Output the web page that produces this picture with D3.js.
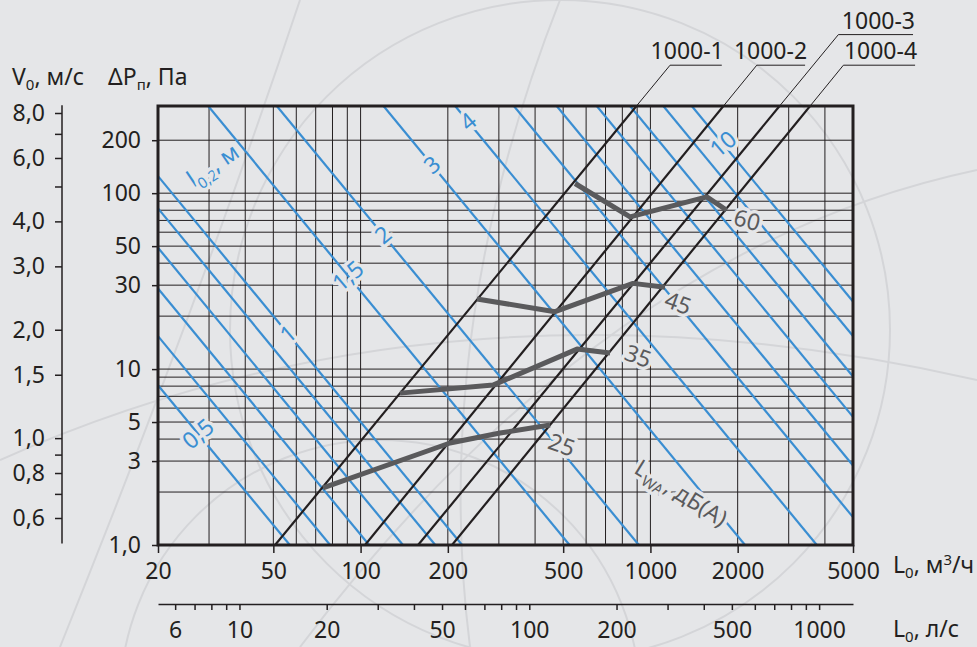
<!DOCTYPE html>
<html>
<head>
<meta charset="utf-8">
<script src="https://cdn.jsdelivr.net/npm/d3@7"></script>
<style>
body { margin: 0; background: #e5e6e8; }
svg { display: block; font-family: "Noto Sans", sans-serif; }
</style>
</head>
<body>
<script>
// axis ticks and grid
const flowTicks = [20, 50, 100, 200, 500, 1000, 2000, 5000];
const flowGrid = [30, 40, 50, 60, 70, 80, 90, 100, 200, 300, 400, 500, 600, 700, 800, 900, 1000, 2000, 3000, 4000];
const flowLsTicks = [6, 7, 8, 9, 10, 20, 30, 40, 50, 60, 70, 80, 90, 100, 200, 300, 400, 500, 600, 700, 800, 900, 1000];
const flowLsLabels = [6, 10, 20, 50, 100, 200, 500, 1000];
const dpTicks = [1, 3, 5, 10, 30, 50, 100, 200];
const dpGrid = [2, 3, 4, 5, 6, 7, 8, 9, 10, 20, 30, 40, 50, 60, 70, 80, 90, 100, 200];
const vTicks = [8, 7, 6, 5, 4, 3, 2, 1.5, 1, 0.9, 0.8, 0.7, 0.6];
const vLabels = [8, 6, 4, 3, 2, 1.5, 1, 0.8, 0.6];

// 1000-x lines: L at dP=1, leader bend point, leader end
const grilleNames = ["1000-1", "1000-2", "1000-3", "1000-4"];
const grilleStart = [50.7, 103.6, 157.9, 206.8];
const grilleBend = [[1169, 534], [2328, 534], [4452, 797], [4633, 534]];
const grilleLeaderEnd = [1763, 3417, 8055, 8188];

// blue lines l0,2
const throwNames = ["0,5", "0,6", "0,7", "0,8", "0,9", "1", "1,5", "2", "3", "4", "5", "6", "7", "8", "9", "10"];
const throwFrom = [[20, 8.1], [20, 15.4], [20, 28.7], [20, 49], [20, 82], [20, 125], [29.8, 313], [51.4, 313], [120, 313], [212, 313], [338, 313], [475, 313], [653, 313], [851, 313], [1108, 313], [1389, 313]];
const throwTo = [[57, 1], [78.5, 1], [107, 1], [140, 1], [181, 1], [224, 1], [526, 1], [912, 1], [2120, 1], [3750, 1], [5000, 1.44], [5000, 2.83], [5000, 5.35], [5000, 9.08], [5000, 15.4], [5000, 24.2]];
const throwLabelL = [27.5, null, null, null, null, 56.2, 90.5, 119.5, 176.4, 234.9, null, null, null, null, null, 1781];

// noise curves LwA
const noiseNames = ["25", "35", "45", "60"];
const noise25 = [[74.2, 2.11], [203.5, 3.80], [302.8, 4.33], [450.6, 4.81]];
const noise35 = [[136.8, 7.30], [286.4, 8.11], [558.3, 12.99], [726, 12.33]];
const noise45 = [[252.2, 25.0], [468.8, 21.2], [870.9, 30.7], [1123, 29.2]];
const noise60 = [[549.6, 113.5], [850.7, 73.3], [1565, 95.3], [1834, 80.0]];
const noiseLabelAt = [[494, 3.70], [907, 11.85], [1246, 23.7], [2156, 70.2]];

const W = 977, H = 647;
const bg = "#e5e6e8", ink = "#231f20", blue = "#3a8ed2", grey = "#5a5a5c";
const fs = 23, fsSub = 15;

const svg = d3.select("body").append("svg").attr("width", W).attr("height", H);

// faint background decoration
const deco = svg.append("g").attr("fill", "none").attr("stroke", "#d4d5d8").attr("stroke-width", 2);
deco.append("circle").attr("cx", 560).attr("cy", 330).attr("r", 330);
deco.append("circle").attr("cx", 380).attr("cy", 700).attr("r", 260);
deco.append("path").attr("d", "M300,0 Q200,300 60,647");
deco.append("path").attr("d", "M0,460 Q450,260 977,380");
deco.append("path").attr("d", "M560,0 Q430,330 470,647");
deco.append("path").attr("d", "M977,170 Q600,250 300,647");

const x = d3.scaleLog().domain([20, 5000]).range([158, 853]);
const y = d3.scaleLog().domain([1, 313]).range([545, 106]);
const xLs = d3.scaleLog().domain([20 / 3.82, 5000 / 3.82]).range([158, 853]);
const yV = d3.scaleLog().domain([0.6, 8]).range([518, 113]);

svg.append("clipPath").attr("id", "plot")
  .append("rect").attr("x", 158).attr("y", 106).attr("width", 695).attr("height", 439);

const line = d3.line().x(d => x(d[0])).y(d => y(d[1]));

// grid
const grid = svg.append("g").attr("stroke", ink).attr("stroke-width", 1);
grid.selectAll(".v").data(flowGrid).join("line")
  .attr("x1", d => x(d)).attr("x2", d => x(d)).attr("y1", 106).attr("y2", 545);
grid.selectAll(".h").data(dpGrid).join("line")
  .attr("x1", 158).attr("x2", 853).attr("y1", d => y(d)).attr("y2", d => y(d));

// blue throw lines
svg.append("g").attr("clip-path", "url(#plot)")
  .selectAll("path").data(throwNames).join("path")
  .attr("d", (d, i) => line([throwFrom[i], throwTo[i]]))
  .attr("fill", "none").attr("stroke", blue).attr("stroke-width", 2.2);

// 1000-x lines
const gl = svg.append("g");
grilleNames.forEach((n, i) => {
  const pts = [[grilleStart[i], 1], grilleBend[i]];
  gl.append("path").attr("d", line(pts.concat([[grilleLeaderEnd[i], grilleBend[i][1]]])))
    .attr("fill", "none").attr("stroke", ink).attr("stroke-width", 1);
  gl.append("path").attr("d", line(pts)).attr("clip-path", "url(#plot)")
    .attr("fill", "none").attr("stroke", ink).attr("stroke-width", 2.2);
  gl.append("text").attr("x", x(grilleLeaderEnd[i]) + 2).attr("y", y(grilleBend[i][1]) - 6)
    .attr("text-anchor", "end").attr("font-size", fs).attr("fill", ink).text(n);
});

// noise curves
svg.append("g").selectAll("path").data([noise25, noise35, noise45, noise60]).join("path")
  .attr("d", line).attr("fill", "none").attr("stroke", grey)
  .attr("stroke-width", 5).attr("stroke-linejoin", "round");

// labels with halo
function halo(sel) {
  return sel.attr("stroke", bg).attr("stroke-width", 7).attr("paint-order", "stroke")
    .attr("stroke-linejoin", "round");
}

throwNames.forEach((n, i) => {
  const L = throwLabelL[i];
  if (L == null) return;
  const a = throwFrom[i], b = throwTo[i];
  const t = Math.log(L / a[0]) / Math.log(b[0] / a[0]);
  const P = Math.exp(Math.log(a[1]) + t * Math.log(b[1] / a[1]));
  halo(svg.append("text")).attr("transform", `translate(${x(L)},${y(P)}) rotate(-40)`)
    .attr("text-anchor", "middle").attr("dy", "0.35em").attr("font-size", fs)
    .attr("fill", blue).text(n);
});

const lt = halo(svg.append("text")).attr("transform", `translate(${x(30.9)},${y(144.3)}) rotate(-34)`)
  .attr("text-anchor", "middle").attr("dy", "0.35em").attr("font-size", fs).attr("fill", blue);
lt.append("tspan").text("l");
lt.append("tspan").attr("font-size", fsSub).attr("dy", 6).text("0,2");
lt.append("tspan").attr("dy", -6).text(", м");

noiseNames.forEach((n, i) => {
  halo(svg.append("text"))
    .attr("transform", `translate(${x(noiseLabelAt[i][0])},${y(noiseLabelAt[i][1])}) rotate(${i === 3 ? 15 : 20})`)
    .attr("text-anchor", "middle").attr("dy", "0.35em").attr("font-size", fs)
    .attr("fill", grey).text(n);
});

const lw = halo(svg.append("text")).attr("transform", `translate(${x(1276)},${y(1.975)}) rotate(32)`)
  .attr("text-anchor", "middle").attr("dy", "0.35em").attr("font-size", fs).attr("fill", grey);
lw.append("tspan").text("L");
lw.append("tspan").attr("font-size", fsSub).attr("dy", 6).text("WA");
lw.append("tspan").attr("dy", -6).text(", дБ(A)");

// frame
svg.append("rect").attr("x", 158).attr("y", 106).attr("width", 695).attr("height", 439)
  .attr("fill", "none").attr("stroke", ink).attr("stroke-width", 3);

// axes
function styleAxis(g) {
  g.selectAll("text").attr("font-size", fs).attr("fill", ink).attr("font-family", "Noto Sans");
  g.selectAll("line").attr("stroke", ink).attr("stroke-width", 1.5);
  g.select(".domain").attr("stroke", ink).attr("stroke-width", 1.5);
}

svg.append("g").attr("transform", "translate(0,545)")
  .call(d3.axisBottom(x).tickValues(flowTicks).tickFormat(d3.format("d")).tickSize(8).tickPadding(10))
  .call(g => g.select(".domain").remove()).call(styleAxis);

svg.append("g").attr("transform", "translate(158,0)")
  .call(d3.axisLeft(y).tickValues(dpTicks).tickFormat(d => d === 1 ? "1,0" : d).tickSize(6).tickPadding(11))
  .call(g => g.select(".domain").remove()).call(styleAxis);

const fmtComma = d => d3.format(".1f")(d).replace(".", ",");
svg.append("g").attr("transform", "translate(62,0)")
  .call(d3.axisLeft(yV).tickValues(vTicks).tickFormat(d => vLabels.includes(d) ? fmtComma(d) : "").tickSize(7).tickPadding(10))
  .call(g => g.select(".domain").remove()).call(styleAxis);
svg.append("line").attr("x1", 62).attr("x2", 62).attr("y1", yV(8.4)).attr("y2", yV(0.51))
  .attr("stroke", ink).attr("stroke-width", 1.5);

svg.append("g").attr("transform", "translate(0,604)")
  .call(d3.axisBottom(xLs).tickValues(flowLsTicks).tickFormat(d => flowLsLabels.includes(d) ? d : "").tickSize(6).tickSizeOuter(0).tickPadding(12))
  .call(styleAxis);

// axis titles
function title(tx, ty, parts) {
  const t = svg.append("text").attr("x", tx).attr("y", ty).attr("font-size", fs).attr("fill", ink);
  parts.forEach(p => t.append("tspan").attr("font-size", p[1]).attr("dy", p[2]).text(p[0]));
}
title(12, 85, [["V", fs, 0], ["0", fsSub, 5], [", м/с", fs, -5]]);
title(108, 85, [["ΔP", fs, 0], ["п", fsSub, 5], [", Па", fs, -5]]);
title(893, 573, [["L", fs, 0], ["0", fsSub, 5], [", м", fs, -5], ["3", fsSub, -8], ["/ч", fs, 8]]);
title(893, 637, [["L", fs, 0], ["0", fsSub, 5], [", л/с", fs, -5]]);
</script>
</body>
</html>
